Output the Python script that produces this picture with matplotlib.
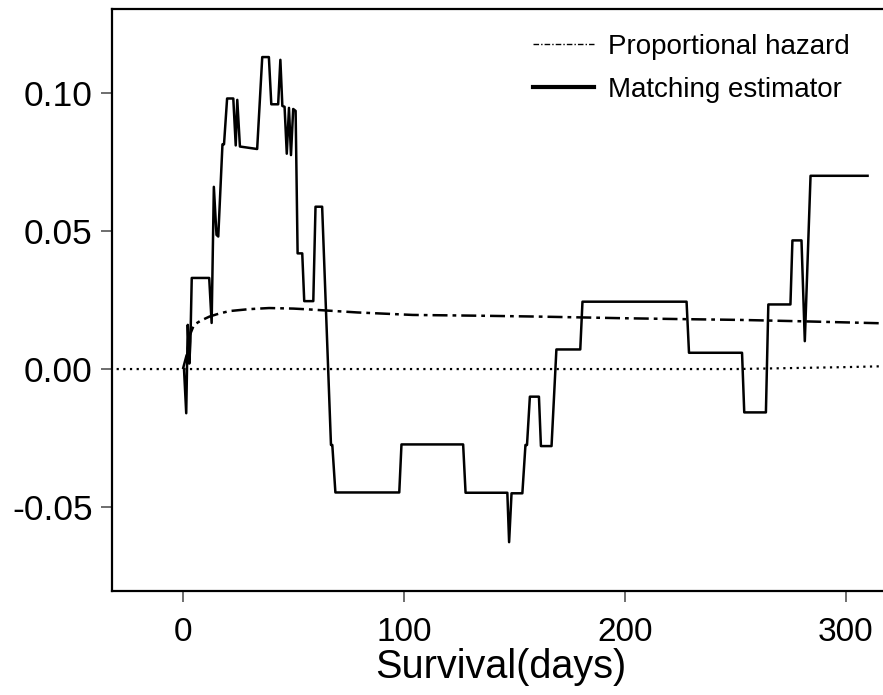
# Matching estimator vs proportional hazard, difference in survival curves
import matplotlib.pyplot as plt
import numpy as np
from matplotlib.lines import Line2D

plt.rcParams['font.family'] = ['Liberation Sans', 'DejaVu Sans']
plt.rcParams['axes.unicode_minus'] = False

# matching estimator (step-like path, days / value)
match_days = [0.5, 1.5, 2.2, 2.9, 3.4, 4.0, 5.9, 11.9, 13.0, 14.0, 15.2, 16.0, 17.9, 18.6,
              20.0, 22.8, 23.9, 24.6, 25.8, 33.6, 35.9, 38.9, 40.0, 43.1, 44.1, 45.0, 46.0,
              47.0, 48.0, 48.9, 49.9, 51.0, 51.9, 54.0, 54.9, 59.0, 60.0, 63.0, 67.0, 67.6,
              69.0, 97.9, 98.9, 126.8, 127.9, 146.8, 147.6, 148.7, 153.6, 155.0, 155.7,
              157.0, 161.1, 162.0, 166.8, 169.0, 179.8, 180.8, 227.9, 229.0, 253.0, 254.0,
              263.8, 264.9, 274.9, 275.8, 279.9, 281.4, 284.0, 309.8]
match_vals = [0.0, -0.016, 0.016, 0.002, 0.010, 0.033, 0.033, 0.033, 0.0167, 0.066, 0.0486, 0.048,
              0.0814, 0.0814, 0.098, 0.098, 0.081, 0.0975, 0.0806, 0.0797, 0.113, 0.113, 0.0959,
              0.0959, 0.112, 0.0953, 0.0950, 0.078, 0.0946, 0.0775, 0.0942, 0.0935, 0.0419,
              0.0419, 0.0246, 0.0246, 0.0588, 0.0588, -0.0275, -0.0275, -0.0447, -0.0447,
              -0.0273, -0.0273, -0.0448, -0.0448, -0.0627, -0.045, -0.045, -0.0275, -0.0275,
              -0.010, -0.010, -0.0279, -0.0279, 0.0071, 0.0071, 0.0244, 0.0244, 0.0059,
              0.0059, -0.0157, -0.0157, 0.0234, 0.0234, 0.0466, 0.0466, 0.0101, 0.070, 0.070]

# proportional hazard model
ph_days = [0, 1, 2, 3, 5, 8, 12, 16, 21, 30, 39, 50, 57, 65, 79, 104, 136, 161, 200, 225, 252,
           280, 315]
ph_vals = [0.0, 0.003, 0.006, 0.012, 0.016, 0.0175, 0.019, 0.020, 0.021, 0.0217, 0.0221,
           0.0219, 0.0216, 0.0212, 0.0205, 0.0196, 0.0193, 0.0190, 0.0184, 0.0181, 0.0178,
           0.0173, 0.0166]

# reference line
ref_days = [-30, 250, 300, 316]
ref_vals = [0.0, 0.0, 0.0007, 0.001]

fig = plt.figure(figsize=(8.83, 6.95), dpi=100)
ax = fig.add_axes([0.1268, 0.1496, 0.881, 0.8374])

ax.plot(ref_days, ref_vals, color='black', lw=1.6, linestyle=(0, (1, 2)))
ax.plot(ph_days, ph_vals, color='black', lw=1.8, linestyle=(0, (6, 2, 1.5, 2)))
ax.plot(match_days, match_vals, color='black', lw=1.8)

ax.set_xlim(-32.1, 319.9)
ax.set_ylim(-0.0804, 0.1304)
ax.set_xticks([0, 100, 200, 300])
ax.set_yticks([-0.05, 0.0, 0.05, 0.10])
ax.set_yticklabels(['-0.05', '0.00', '0.05', '0.10'])
ax.tick_params(axis='both', colors='#555555', length=8, width=1.2, labelcolor='black')
ax.tick_params(axis='y', labelsize=25.5, pad=6)
ax.tick_params(axis='x', labelsize=24, pad=11)
for lab in ax.get_xticklabels():
    lab.set_family(['Liberation Sans Narrow', 'Liberation Sans'])
ax.set_xlabel('Survival(days)', fontsize=28.5, labelpad=0)

ax.spines['right'].set_visible(False)
for s in ['left', 'top', 'bottom']:
    ax.spines[s].set_linewidth(1.6)

h1 = Line2D([], [], color='black', lw=1.0, linestyle=(0, (4, 1.5, 1, 1.5)))
h2 = Line2D([], [], color='black', lw=3.0)
ax.legend([h1, h2], ['Proportional hazard', 'Matching estimator'], frameon=False,
          fontsize=20, loc='upper left', bbox_to_anchor=(533 / 883, 1 - 34 / 695),
          bbox_transform=fig.transFigure, handlelength=2.2, handletextpad=0.5,
          labelspacing=0.6, borderpad=0, borderaxespad=0)

plt.savefig('out.png', dpi=100)
